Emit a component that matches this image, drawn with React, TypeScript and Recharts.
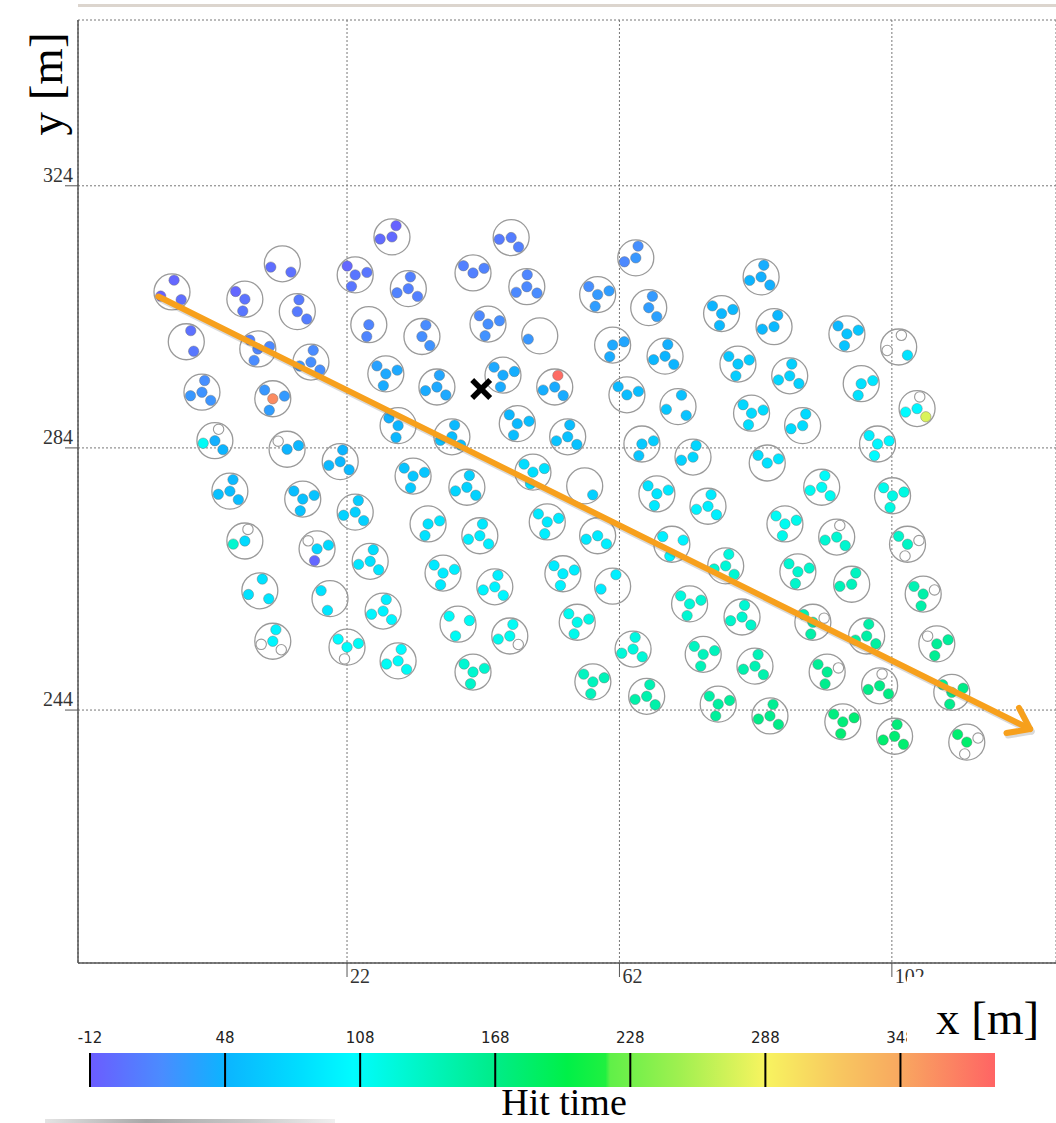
import React from 'react';
import {
  ScatterChart,
  Scatter,
  XAxis,
  YAxis,
  CartesianGrid,
  ReferenceLine,
  ReferenceDot,
} from 'recharts';

// PMT states: a number is a hit time, NH = PMT read out but not hit, NA = no PMT signal
const NH = null;
const NA = undefined;

// Station centres [m]
const STATION_X = [
  28.6, 46.1, 64.4, 12.5, 23.2, 40.5, 82.8, 31.0, 48.4, -3.7,
  7.0, 58.8, 14.7, 66.3, 77.0, 84.7, -1.6, 25.2, 33.0, 42.7,
  50.3, 8.9, 16.7, 61.0, 68.7, 79.4, 95.4, 103.0, 87.0, 97.5,
  105.7, 0.7, 11.1, 27.7, 35.2, 44.9, 52.5, 63.1, 70.6,
  81.4, 88.9, 65.3, 72.8, 83.7, 99.9, 56.9, 67.5, 75.0, 91.7,
  102.1, 58.8, 69.7, 77.6, 86.3, 93.9, 104.3, 88.2, 96.1, 2.6,
  13.2, 21.0, 29.5, 37.4, 47.0, 54.4, 4.8, 15.5, 23.2, 31.7,
  39.6, 49.3, 7.0, 17.6, 25.4, 33.9, 41.5, 51.4, 36.1, 9.2,
  19.5, 43.7, 53.7, 11.1, 22.0, 27.3, 29.5, 38.3, 45.9, 40.5,
  55.8, 61.0, 64.0, 58.1, 66.0, 72.3, 80.0, 74.3, 81.9, 76.5,
  84.1, 90.4, 98.3, 106.6, 108.6, 92.5, 100.2, 110.8, 94.8, 102.4, 113.0,
];

const STATION_Y = [
  316.2, 316.1, 313.0, 312.1, 310.4, 310.7, 310.1, 308.3, 308.6, 307.8,
  306.7, 307.4, 304.8, 305.4, 304.5, 302.5, 300.2, 302.8, 301.0, 302.9,
  301.1, 299.1, 297.1, 299.7, 298.0, 296.8, 301.4, 299.4, 295.0, 293.8,
  290.0, 292.5, 291.5, 295.3, 293.3, 295.1, 293.3, 292.1, 290.3,
  289.3, 287.4, 284.6, 282.6, 281.7, 284.6, 278.2, 277.0, 275.1, 278.0,
  276.7, 270.6, 269.3, 266.0, 272.4, 270.4, 269.3, 265.1, 263.2, 285.1,
  283.8, 281.9, 287.4, 285.7, 287.7, 285.7, 277.4, 276.2, 274.2, 279.7,
  278.0, 280.3, 269.8, 268.6, 266.7, 272.4, 270.6, 272.7, 264.9, 262.2,
  261.0, 262.8, 264.8, 254.5, 253.6, 259.1, 251.5, 257.1, 255.3, 249.8,
  257.4, 262.9, 253.3, 248.3, 246.1, 260.2, 258.2, 252.5, 250.7, 244.9,
  243.1, 257.4, 255.3, 261.7, 254.1, 249.8, 247.7, 246.7, 242.2, 240.0, 239.1,
];

// Orientation of the first outer PMT of each station [deg, screen frame]
const STATION_ROT = [
  290, 172, 281, 164, 228, 217, 283, 280, 272, 280,
  220, 222, 278, 288, 220, 288, 292, 100, 289, 224,
  164, 228, 281, 224, 283, 220, 222, 283, 280, 225,
  283, 283, 227, 222, 282, 222, 285, 223, 287,
  225, 285, 225, 285, 220, 225, 48, 222, 285, 285,
  222, 283, 220, 285, 222, 285, 222, 222, 290, 288,
  222, 282, 220, 283, 228, 280, 285, 222, 285, 222,
  282, 222, 285, 222, 285, 225, 283, 222, 222, 282,
  222, 285, 222, 285, 222, 285, 285, 222, 285, 222,
  225, 286, 280, 220, 285, 222, 282, 222, 285, 222,
  285, 220, 280, 220, 220, 220, 282, 220, 220, 282, 220,
];

// Hit times per station: [centre, arm 1, arm 2, arm 3]
const PMT_HITS: (number | null | undefined)[][] = [
  [-3, -8, NA, -2], [10, 8, NA, 12], [28, 22, NA, 18], [NA, 0, NA, 2], [5, -5, 5, 5],
  [12, 12, 14, NA], [45, 43, 45, 48], [12, 12, 12, 14], [18, 16, 20, 18], [NA, -5, 0, -8],
  [3, -5, NA, 5], [30, 22, 32, 32], [8, 8, 10, NA], [32, 30, 34, NA], [50, 48, 52, 52],
  [52, 50, NA, 52], [NA, 2, 6, NA], [15, 15, NA, NA], [22, 20, 25, NA], [22, 18, 22, 24],
  [NA, 28, NA, NA], [15, 12, 18, 20], [22, 20, 22, 26], [40, NA, 38, 42], [48, 45, 48, 50],
  [65, 62, 68, 68], [60, 50, 62, 60], [NA, NH, 85, NH], [72, 70, 72, 75], [85, NA, 88, 85],
  [100, NH, 275, 105], [25, 22, 26, 28], [365, 28, 30, 32], [40, 35, 40, 42], [40, 38, 40, 42],
  [42, 40, 44, 42], [42, 385, 42, 44], [55, 52, 55, NA], [NA, 58, 60, 62],
  [78, 76, 80, 82], [80, 78, NA, 80], [65, NA, 68, 62], [75, 75, NA, 72], [85, 82, 88, NA],
  [100, 95, 100, 105], [NA, 70, NA, NA], [88, 85, 90, 90], [95, 92, 95, 98], [110, 108, 112, 112],
  [118, 115, 120, 120], [92, NA, 95, 90], [NA, 95, 98, 100], [125, 122, 128, 128], [112, 110, 115, 115],
  [128, NH, 130, 128], [135, 132, NH, NH], [130, 128, 132, 132], [140, 138, NA, 142], [45, NH, 48, 110],
  [48, NH, 50, NA], [50, 48, 52, 52], [48, 45, NA, 50], [55, 52, 55, 58], [52, 50, 55, 55],
  [58, 55, 58, 60], [55, 52, 55, 58], [58, 55, 60, 60], [70, 68, 70, 72], [62, 60, 62, 65],
  [72, 70, 72, 74], [82, 80, 85, 85], [78, NH, NA, 130], [75, NH, 78, -5], [85, 82, 88, 88],
  [85, NA, 88, 85], [92, 90, 95, 95], [92, 90, 92, 95], [92, 90, 95, 92], [NA, 85, 88, 85],
  [NA, 85, NA, 88], [98, 95, 100, 100], [95, 92, 95, 98], [100, 98, NH, NH], [108, 105, 110, NH],
  [98, 95, 100, 100], [108, 105, 110, 110], [NA, 108, 110, 110], [112, 110, NH, 114], [130, 128, 130, 132],
  [115, 112, 118, 115], [NA, 95, NA, 92], [122, 120, 125, 125], [140, 138, 142, 140], [148, 145, 150, 150],
  [125, 122, 128, 128], [130, 128, 132, 132], [140, 138, 140, 142], [145, 142, 148, 148], [155, 152, 158, 158],
  [165, 162, 168, 168], [148, 145, NH, 150], [152, 150, 155, 155], [150, 145, NH, 150], [160, NH, 158, 162],
  [162, 160, NH, 165], [168, NH, 170, 168], [165, 162, 168, 165], [175, 172, 178, 178], [178, 175, 180, 180],
  [182, 180, NH, NH],
];

// Axes
const X_TICKS = [22, 62, 102];
const Y_TICKS = [244, 284, 324];
const X_DOMAIN: [number, number] = [-17.5, 126.1];
const Y_DOMAIN: [number, number] = [205.4, 349.3];

// Reconstructed shower core and direction of propagation
const SHOWER_CORE = { x: 41.7, y: 293.0 };
const SHOWER_AXIS = [
  { x: -5.7, y: 307.1 },
  { x: 122.3, y: 241.1 },
];

// Hit-time colour scale
const COLOR_MIN = -12;
const COLOR_MAX = 390;
const COLOR_TICKS = [-12, 48, 108, 168, 228, 288, 348];
const COLOR_STOPS: [number, string][] = [
  [-12, '#6b5cff'],
  [20, '#4a8cff'],
  [48, '#0cb4ff'],
  [80, '#00dcff'],
  [105, '#00fcff'],
  [125, '#00f8d8'],
  [168, '#00ec88'],
  [200, '#00f048'],
  [217, '#20f040'],
  [219, '#60f048'],
  [250, '#a0f050'],
  [288, '#f8f460'],
  [320, '#f8c860'],
  [348, '#f8a860'],
  [390, '#ff6464'],
];

const stations = STATION_X.map((x, i) => ({
  x,
  y: STATION_Y[i],
  rot: STATION_ROT[i],
  hits: PMT_HITS[i],
}));

function hexToRgb(h: string): number[] {
  const n = parseInt(h.slice(1), 16);
  return [(n >> 16) & 255, (n >> 8) & 255, n & 255];
}

function hitColor(t: number): string {
  const v = Math.max(COLOR_MIN, Math.min(COLOR_MAX, t));
  for (let i = 0; i < COLOR_STOPS.length - 1; i++) {
    const [a, ca] = COLOR_STOPS[i];
    const [b, cb] = COLOR_STOPS[i + 1];
    if (v >= a && v <= b) {
      const f = b === a ? 0 : (v - a) / (b - a);
      const A = hexToRgb(ca);
      const B = hexToRgb(cb);
      const c = A.map((q, k) => Math.round(q + (B[k] - q) * f));
      return `rgb(${c[0]},${c[1]},${c[2]})`;
    }
  }
  return COLOR_STOPS[COLOR_STOPS.length - 1][1];
}

const STATION_R = 18;
const ARM = 12;
const PMT_R = 5.2;

// One tank: outline plus centre PMT and three outer PMTs at 120° spacing
const StationShape = (props: any) => {
  const { cx, cy, payload } = props;
  if (cx == null || cy == null) return <g />;
  const rot = (payload.rot * Math.PI) / 180;
  const offsets: number[][] = [[0, 0]];
  for (let k = 0; k < 3; k++) {
    const a = rot + (k * 2 * Math.PI) / 3;
    offsets.push([ARM * Math.cos(a), ARM * Math.sin(a)]);
  }
  return (
    <g>
      <circle cx={cx} cy={cy} r={STATION_R} fill="none" stroke="#9a9a9a" strokeWidth={1.3} />
      {payload.hits.map((h: number | null | undefined, i: number) => {
        if (h === undefined) return null;
        const [dx, dy] = offsets[i];
        return (
          <circle
            key={i}
            cx={cx + dx}
            cy={cy + dy}
            r={PMT_R}
            fill={h === null ? '#ffffff' : hitColor(h)}
            stroke={h === null ? '#9a9a9a' : 'rgba(110,110,110,0.55)'}
            strokeWidth={h === null ? 1.1 : 0.8}
          />
        );
      })}
    </g>
  );
};

const ArrowShape = (props: any) => {
  const { x1, y1, x2, y2 } = props;
  if ([x1, y1, x2, y2].some((v) => v == null || isNaN(v))) return <g />;
  const ang = Math.atan2(y1 - y2, x1 - x2);
  const L = 24;
  const spread = (36 * Math.PI) / 180;
  const ax = x2 + L * Math.cos(ang - spread);
  const ay = y2 + L * Math.sin(ang - spread);
  const bx = x2 + L * Math.cos(ang + spread);
  const by = y2 + L * Math.sin(ang + spread);
  const col = '#f7a01c';
  return (
    <g>
      <g opacity={0.22} transform="translate(1.5,2.5)">
        <line x1={x1} y1={y1} x2={x2} y2={y2} stroke="#555" strokeWidth={6} strokeLinecap="round" />
        <polyline points={`${ax},${ay} ${x2},${y2} ${bx},${by}`} fill="none" stroke="#555" strokeWidth={6} strokeLinecap="round" strokeLinejoin="round" />
      </g>
      <line x1={x1} y1={y1} x2={x2} y2={y2} stroke={col} strokeWidth={6} strokeLinecap="round" />
      <polyline points={`${ax},${ay} ${x2},${y2} ${bx},${by}`} fill="none" stroke={col} strokeWidth={6} strokeLinecap="round" strokeLinejoin="round" />
    </g>
  );
};

const CoreShape = (props: any) => {
  const { cx, cy } = props;
  if (cx == null || cy == null) return <g />;
  const s = 9;
  return (
    <g>
      <line x1={cx - s} y1={cy - s} x2={cx + s} y2={cy + s} stroke="#000" strokeWidth={5.5} />
      <line x1={cx - s} y1={cy + s} x2={cx + s} y2={cy - s} stroke="#000" strokeWidth={5.5} />
    </g>
  );
};

const XTick = (props: any) => {
  const { x, y, payload } = props;
  return (
    <g>
      <line x1={x} y1={y} x2={x} y2={y + 14} stroke="#555" strokeWidth={1} />
      <text x={x + 3} y={y + 20} fontFamily="Liberation Serif, serif" fontSize={20} fill="#333">
        {payload.value}
      </text>
    </g>
  );
};

const YTick = (props: any) => {
  const { x, y, payload } = props;
  return (
    <g>
      <line x1={x - 13} y1={y} x2={x} y2={y} stroke="#555" strokeWidth={1} />
      <text x={x - 5} y={y - 4} textAnchor="end" fontFamily="Liberation Serif, serif" fontSize={20} fill="#333">
        {payload.value}
      </text>
    </g>
  );
};

const CB_X0 = 90;
const CB_X1 = 995;
const CB_Y0 = 1053;
const CB_H = 34;
const cbX = (v: number) => CB_X0 + ((v - COLOR_MIN) / (COLOR_MAX - COLOR_MIN)) * (CB_X1 - CB_X0);

export default function App() {
  return (
    <div style={{ position: 'absolute', left: 0, top: 0, width: 1056, height: 1123, background: '#fff' }}>
      <ScatterChart
        width={1056}
        height={1000}
        margin={{ top: 20, right: 0, bottom: 0, left: 0 }}
        style={{ position: 'absolute', left: 0, top: 0 }}
      >
        <CartesianGrid stroke="#777" strokeDasharray="2 2" strokeWidth={1} />
        <XAxis
          type="number"
          dataKey="x"
          domain={X_DOMAIN}
          ticks={X_TICKS}
          allowDataOverflow
          height={37}
          tickSize={0}
          tickMargin={0}
          tickLine={false}
          axisLine={{ stroke: '#555', strokeWidth: 1.5 }}
          tick={<XTick />}
          interval={0}
        />
        <YAxis
          type="number"
          dataKey="y"
          domain={Y_DOMAIN}
          ticks={Y_TICKS}
          allowDataOverflow
          width={78}
          tickSize={0}
          tickMargin={0}
          tickLine={false}
          axisLine={{ stroke: '#555', strokeWidth: 1.5 }}
          tick={<YTick />}
          interval={0}
        />
        <Scatter data={stations} shape={StationShape} isAnimationActive={false} />
        <ReferenceDot x={SHOWER_CORE.x} y={SHOWER_CORE.y} r={9} shape={CoreShape} zIndex={1100} />
        <ReferenceLine segment={SHOWER_AXIS} shape={ArrowShape} stroke="#f7a01c" zIndex={1100} />
      </ScatterChart>

      <svg
        width={1056}
        height={1123}
        style={{ position: 'absolute', left: 0, top: 0, pointerEvents: 'none' }}
      >
        <defs>
          <linearGradient id="hitScale" x1="0" y1="0" x2="1" y2="0">
            {COLOR_STOPS.map(([v, c], i) => (
              <stop key={i} offset={(v - COLOR_MIN) / (COLOR_MAX - COLOR_MIN)} stopColor={c} />
            ))}
          </linearGradient>
          <linearGradient id="smear" x1="0" y1="0" x2="1" y2="0">
            <stop offset="0" stopColor="#e4e4e4" />
            <stop offset="0.35" stopColor="#a8a8a8" />
            <stop offset="0.7" stopColor="#c8c8c8" />
            <stop offset="1" stopColor="#f0f0f0" />
          </linearGradient>
        </defs>

        <rect x={78} y={4} width={978} height={3} fill="#dcd5ce" />

        <text
          transform="translate(62,84) rotate(-90)"
          textAnchor="middle"
          fontFamily="Liberation Serif, serif"
          fontSize={47}
          fill="#000"
        >
          y [m]
        </text>

        <rect x={CB_X0} y={CB_Y0} width={CB_X1 - CB_X0} height={CB_H} fill="url(#hitScale)" />
        {COLOR_TICKS.map((v) => (
          <g key={v}>
            <line x1={cbX(v)} y1={CB_Y0} x2={cbX(v)} y2={CB_Y0 + CB_H} stroke="#000" strokeWidth={2} />
            <text
              x={cbX(v)}
              y={CB_Y0 - 10}
              textAnchor="middle"
              fontFamily="DejaVu Sans, sans-serif"
              fontSize={15}
              fill="#222"
            >
              {v}
            </text>
          </g>
        ))}

        <rect x={907} y={977} width={149} height={71} fill="#fff" />
        <text x={936} y={1034} fontFamily="Liberation Serif, serif" fontSize={47} fill="#000">
          x [m]
        </text>

        <text x={564} y={1115} textAnchor="middle" fontFamily="Liberation Serif, serif" fontSize={38} fill="#000">
          Hit time
        </text>

        <rect x={45} y={1119} width={290} height={4} fill="url(#smear)" />
      </svg>
    </div>
  );
}
